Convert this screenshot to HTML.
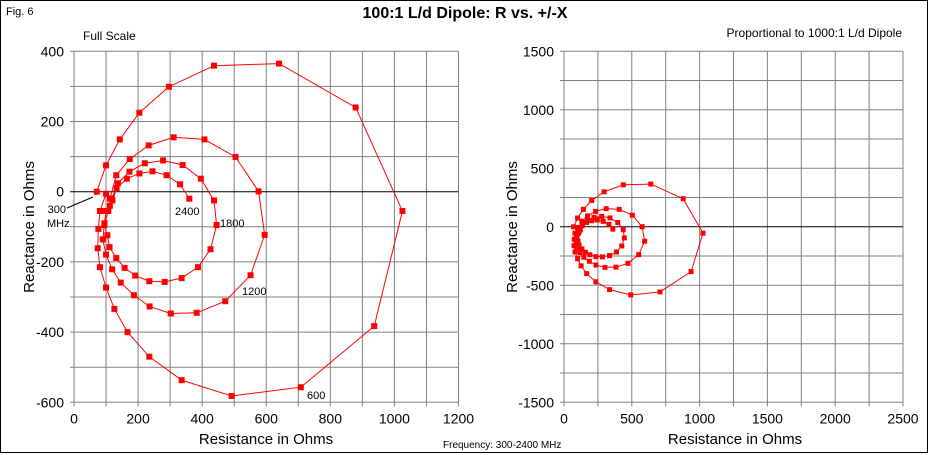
<!DOCTYPE html>
<html><head><meta charset="utf-8"><style>
body{margin:0;background:#fff}
svg{display:block;font-family:"Liberation Sans",Arial,sans-serif}
</style></head><body>
<svg id="s" width="930" height="455" xmlns="http://www.w3.org/2000/svg">
<rect x="0.5" y="0.5" width="927" height="452" fill="#fff" stroke="#000"/>
<text x="6" y="15" font-size="11">Fig. 6</text>
<text x="465" y="18" font-size="16" font-weight="bold" text-anchor="middle">100:1 L/d Dipole: R vs. +/-X</text>
<text x="83" y="40" font-size="12">Full Scale</text>
<text x="902" y="37" font-size="12" text-anchor="end">Proportional to 1000:1 L/d Dipole</text>
<text x="443" y="448" font-size="10">Frequency: 300-2400 MHz</text>
<text x="266" y="444" font-size="15" text-anchor="middle">Resistance in Ohms</text>
<text x="735" y="444" font-size="15" text-anchor="middle">Resistance in Ohms</text>
<text transform="translate(34,227) rotate(-90)" font-size="15" text-anchor="middle">Reactance in Ohms</text>
<text transform="translate(517,227) rotate(-90)" font-size="15" text-anchor="middle">Reactance in Ohms</text>
<g id="g"></g>
<g font-size="11">
<text x="66" y="213" text-anchor="end">300</text>
<text x="47" y="227">MHz</text>
<line x1="67" y1="208" x2="93" y2="197" stroke="#000"/>
<text x="175" y="215">2400</text>
<text x="220" y="227">1800</text>
<text x="242" y="295">1200</text>
<text x="307" y="399">600</text>
</g>
</svg>
<script>
const g=document.getElementById('g');let h='';
function plot(x0,x1,y0,y1,xmax,ymin,ymax,xs,ys,xl,yl){
 const X=r=>x0+r/xmax*(x1-x0),Y=v=>y0+(ymax-v)/(ymax-ymin)*(y1-y0);
 for(let r=0;r<=xmax;r+=xs){h+=`<line x1="${X(r)}" y1="${y0}" x2="${X(r)}" y2="${y1+4}" stroke="#808080"/>`;}
 for(let v=ymin;v<=ymax;v+=ys){h+=`<line x1="${x0-4}" y1="${Y(v)}" x2="${x1}" y2="${Y(v)}" stroke="${v==0?'#000':'#808080'}"/>`;}
 for(let r=0;r<=xmax;r+=xl)h+=`<text x="${X(r)}" y="${y1+21}" font-size="14" text-anchor="middle">${r}</text>`;
 for(let v=ymin;v<=ymax;v+=yl)h+=`<text x="${x0-10}" y="${Y(v)+5}" font-size="14" text-anchor="end">${v}</text>`;
 return [X,Y];
}
const d=[[71,0],[100,75],[143,149],[204,225],[296,299],[437,359],[640,365],[879,240],[1025,-55],[937,-383],[708,-557],[492,-582],[336,-537],[235,-470],[167,-400],[126,-334],[100,-273],[81,-215],[74,-161],[76,-106],[81,-55],[100,-6],
[112,-20],[132,47],[174,93],[233,132],[311,155],[407,149],[504,99],[576,1],[595,-123],[551,-238],[472,-312],[383,-345],[302,-347],[236,-327],[187,-295],[146,-259],[119,-221],[100,-179],[90,-136],[95,-90],[100,-55],[118,-20],
[137,24],[173,57],[221,81],[278,89],[339,76],[396,37],[437,-25],[445,-95],[426,-164],[387,-215],[336,-246],[283,-257],[235,-255],[191,-239],[158,-217],[132,-189],[111,-158],[104,-124],[95,-95],[107,-55],[112,-40],[120,-25],
[133,10],[165,37],[204,52],[245,58],[289,47],[331,21],[360,-20]];
function series(X,Y,s){
 h+=`<polyline fill="none" stroke="#f00" points="${d.map(p=>X(p[0])+','+Y(p[1])).join(' ')}"/>`;
 d.forEach(p=>h+=`<rect x="${X(p[0])-s}" y="${Y(p[1])-s}" width="${2*s}" height="${2*s}" fill="#f00"/>`);
}
let [X,Y]=plot(74,458.5,51.3,402.3,1200,-600,400,100,100,200,200);series(X,Y,3);
[X,Y]=plot(564,903,51.3,402.3,2500,-1500,1500,250,250,500,500);series(X,Y,2.5);
g.innerHTML=h;
</script>
</body></html>
